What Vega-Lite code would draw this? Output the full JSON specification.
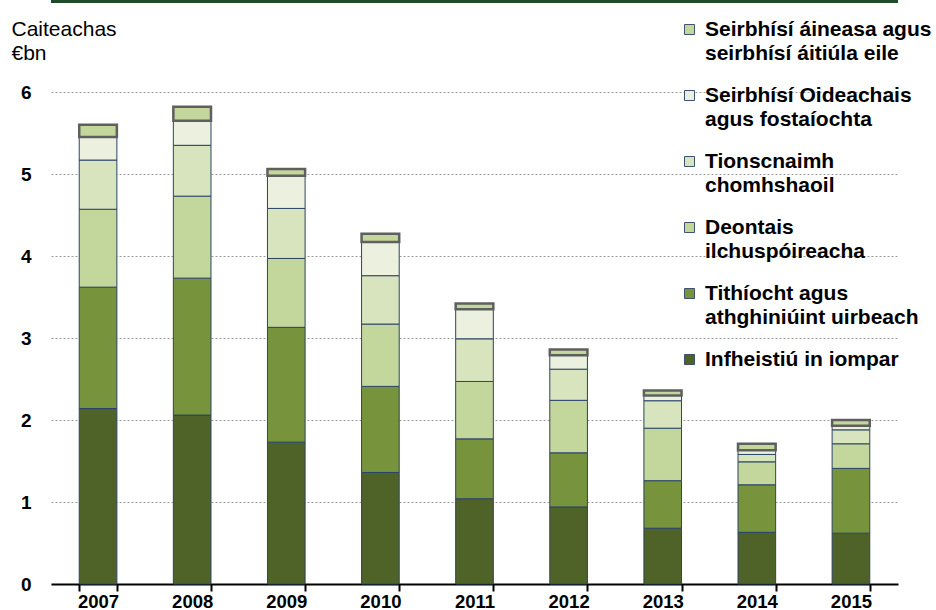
{
  "$schema": "https://vega.github.io/schema/vega-lite/v6.json",
  "width": 847,
  "height": 492,
  "autosize": {"type": "none"},
  "padding": {"left": 51, "top": 92, "right": 38, "bottom": 26},
  "background": "white",
  "config": {
    "font": "Liberation Sans",
    "view": {"stroke": null},
    "style": {"guide-label": {"lineHeight": 24}}
  },
  "data": {
    "values": [
      {"year": "2007", "series": "Infheistiú in iompar", "value": 2.14},
      {"year": "2007", "series": "Tithíocht agus athghiniúint uirbeach", "value": 1.48},
      {"year": "2007", "series": "Deontais ilchuspóireacha", "value": 0.95},
      {"year": "2007", "series": "Tionscnaimh chomhshaoil", "value": 0.60},
      {"year": "2007", "series": "Seirbhísí Oideachais agus fostaíochta", "value": 0.28},
      {"year": "2007", "series": "Seirbhísí áineasa agus seirbhísí áitiúla eile", "value": 0.15},
      {"year": "2008", "series": "Infheistiú in iompar", "value": 2.06},
      {"year": "2008", "series": "Tithíocht agus athghiniúint uirbeach", "value": 1.67},
      {"year": "2008", "series": "Deontais ilchuspóireacha", "value": 1.00},
      {"year": "2008", "series": "Tionscnaimh chomhshaoil", "value": 0.62},
      {"year": "2008", "series": "Seirbhísí Oideachais agus fostaíochta", "value": 0.30},
      {"year": "2008", "series": "Seirbhísí áineasa agus seirbhísí áitiúla eile", "value": 0.17},
      {"year": "2009", "series": "Infheistiú in iompar", "value": 1.73},
      {"year": "2009", "series": "Tithíocht agus athghiniúint uirbeach", "value": 1.40},
      {"year": "2009", "series": "Deontais ilchuspóireacha", "value": 0.84},
      {"year": "2009", "series": "Tionscnaimh chomhshaoil", "value": 0.61},
      {"year": "2009", "series": "Seirbhísí Oideachais agus fostaíochta", "value": 0.40},
      {"year": "2009", "series": "Seirbhísí áineasa agus seirbhísí áitiúla eile", "value": 0.08},
      {"year": "2010", "series": "Infheistiú in iompar", "value": 1.36},
      {"year": "2010", "series": "Tithíocht agus athghiniúint uirbeach", "value": 1.05},
      {"year": "2010", "series": "Deontais ilchuspóireacha", "value": 0.76},
      {"year": "2010", "series": "Tionscnaimh chomhshaoil", "value": 0.59},
      {"year": "2010", "series": "Seirbhísí Oideachais agus fostaíochta", "value": 0.41},
      {"year": "2010", "series": "Seirbhísí áineasa agus seirbhísí áitiúla eile", "value": 0.10},
      {"year": "2011", "series": "Infheistiú in iompar", "value": 1.04},
      {"year": "2011", "series": "Tithíocht agus athghiniúint uirbeach", "value": 0.73},
      {"year": "2011", "series": "Deontais ilchuspóireacha", "value": 0.70},
      {"year": "2011", "series": "Tionscnaimh chomhshaoil", "value": 0.52},
      {"year": "2011", "series": "Seirbhísí Oideachais agus fostaíochta", "value": 0.36},
      {"year": "2011", "series": "Seirbhísí áineasa agus seirbhísí áitiúla eile", "value": 0.07},
      {"year": "2012", "series": "Infheistiú in iompar", "value": 0.94},
      {"year": "2012", "series": "Tithíocht agus athghiniúint uirbeach", "value": 0.66},
      {"year": "2012", "series": "Deontais ilchuspóireacha", "value": 0.64},
      {"year": "2012", "series": "Tionscnaimh chomhshaoil", "value": 0.38},
      {"year": "2012", "series": "Seirbhísí Oideachais agus fostaíochta", "value": 0.17},
      {"year": "2012", "series": "Seirbhísí áineasa agus seirbhísí áitiúla eile", "value": 0.07},
      {"year": "2013", "series": "Infheistiú in iompar", "value": 0.68},
      {"year": "2013", "series": "Tithíocht agus athghiniúint uirbeach", "value": 0.58},
      {"year": "2013", "series": "Deontais ilchuspóireacha", "value": 0.64},
      {"year": "2013", "series": "Tionscnaimh chomhshaoil", "value": 0.335},
      {"year": "2013", "series": "Seirbhísí Oideachais agus fostaíochta", "value": 0.065},
      {"year": "2013", "series": "Seirbhísí áineasa agus seirbhísí áitiúla eile", "value": 0.06},
      {"year": "2014", "series": "Infheistiú in iompar", "value": 0.63},
      {"year": "2014", "series": "Tithíocht agus athghiniúint uirbeach", "value": 0.58},
      {"year": "2014", "series": "Deontais ilchuspóireacha", "value": 0.28},
      {"year": "2014", "series": "Tionscnaimh chomhshaoil", "value": 0.09},
      {"year": "2014", "series": "Seirbhísí Oideachais agus fostaíochta", "value": 0.05},
      {"year": "2014", "series": "Seirbhísí áineasa agus seirbhísí áitiúla eile", "value": 0.08},
      {"year": "2015", "series": "Infheistiú in iompar", "value": 0.62},
      {"year": "2015", "series": "Tithíocht agus athghiniúint uirbeach", "value": 0.79},
      {"year": "2015", "series": "Deontais ilchuspóireacha", "value": 0.30},
      {"year": "2015", "series": "Tionscnaimh chomhshaoil", "value": 0.17},
      {"year": "2015", "series": "Seirbhísí Oideachais agus fostaíochta", "value": 0.05},
      {"year": "2015", "series": "Seirbhísí áineasa agus seirbhísí áitiúla eile", "value": 0.07}
    ]
  },
  "layer": [
    {
      "transform": [
        {"calculate": "indexof(['Infheistiú in iompar', 'Tithíocht agus athghiniúint uirbeach', 'Deontais ilchuspóireacha', 'Tionscnaimh chomhshaoil', 'Seirbhísí Oideachais agus fostaíochta', 'Seirbhísí áineasa agus seirbhísí áitiúla eile'], datum.series)", "as": "stackRank"}
      ],
      "mark": {"type": "bar"},
      "encoding": {
        "x": {
          "field": "year",
          "type": "ordinal",
          "scale": {"paddingInner": 0.6, "paddingOuter": 0.3},
          "axis": {
            "title": null,
            "labelAngle": 0,
            "labelFontSize": 18.5,
            "labelFontWeight": "bold",
            "labelColor": "black",
            "labelPadding": 1,
            "domainColor": "black",
            "domainWidth": 2,
            "tickColor": "black",
            "tickWidth": 2,
            "tickSize": 7,
            "tickBand": "extent"
          }
        },
        "y": {
          "field": "value",
          "type": "quantitative",
          "stack": "zero",
          "scale": {"domain": [0, 6]},
          "axis": {
            "title": ["Caiteachas", "€bn"],
            "titleAngle": 0,
            "titleAlign": "left",
            "titleBaseline": "top",
            "titleX": -40,
            "titleY": -74,
            "titleFontSize": 21,
            "titleFontWeight": "normal",
            "titleColor": "black",
            "titleLineHeight": 24,
            "domain": false,
            "ticks": false,
            "values": [0, 1, 2, 3, 4, 5, 6],
            "format": "d",
            "labelFontSize": 19,
            "labelFontWeight": "bold",
            "labelColor": "black",
            "labelPadding": 20,
            "grid": true,
            "gridColor": "#9a9a9a",
            "gridDash": [2, 2],
            "gridWidth": 1
          }
        },
        "order": {"field": "stackRank", "type": "quantitative"},
        "color": {
          "field": "series",
          "type": "nominal",
          "scale": {
            "domain": [
              "Infheistiú in iompar",
              "Tithíocht agus athghiniúint uirbeach",
              "Deontais ilchuspóireacha",
              "Tionscnaimh chomhshaoil",
              "Seirbhísí Oideachais agus fostaíochta",
              "Seirbhísí áineasa agus seirbhísí áitiúla eile"
            ],
            "range": ["#4F6228", "#77933C", "#C3D69B", "#D7E4BD", "#EBF1DE", "#C3D69B"]
          },
          "legend": {
            "title": null,
            "orient": "none",
            "legendX": 628,
            "legendY": -73,
            "padding": 0,
            "values": [
              "Seirbhísí áineasa agus seirbhísí áitiúla eile",
              "Seirbhísí Oideachais agus fostaíochta",
              "Tionscnaimh chomhshaoil",
              "Deontais ilchuspóireacha",
              "Tithíocht agus athghiniúint uirbeach",
              "Infheistiú in iompar"
            ],
            "labelExpr": "datum.label == 'Seirbhísí áineasa agus seirbhísí áitiúla eile' ? ['Seirbhísí áineasa agus', 'seirbhísí áitiúla eile'] : datum.label == 'Seirbhísí Oideachais agus fostaíochta' ? ['Seirbhísí Oideachais', 'agus fostaíochta'] : datum.label == 'Tionscnaimh chomhshaoil' ? ['Tionscnaimh', 'chomhshaoil'] : datum.label == 'Deontais ilchuspóireacha' ? ['Deontais', 'ilchuspóireacha'] : datum.label == 'Tithíocht agus athghiniúint uirbeach' ? ['Tithíocht agus', 'athghiniúint uirbeach'] : datum.label",
            "labelFontSize": 21,
            "labelFontWeight": "bold",
            "labelColor": "black",
            "labelLimit": 400,
            "labelOffset": 5,
            "symbolType": "square",
            "symbolSize": 100,
            "symbolStrokeColor": "#3E5270",
            "symbolStrokeWidth": 1,
            "symbolOpacity": 1,
            "rowPadding": 20
          }
        },
        "stroke": {
          "condition": {"test": "datum.series === 'Seirbhísí áineasa agus seirbhísí áitiúla eile'", "value": "#5F5F5F"},
          "value": "#2B4466"
        },
        "strokeWidth": {
          "condition": {"test": "datum.series === 'Seirbhísí áineasa agus seirbhísí áitiúla eile'", "value": 2.5},
          "value": 1
        }
      }
    },
    {
      "mark": {"type": "rule", "clip": false, "color": "#1E4D2B", "strokeWidth": 3},
      "encoding": {
        "y": {"datum": 7.11, "type": "quantitative", "scale": {"domain": [0, 6]}}
      }
    }
  ]
}
